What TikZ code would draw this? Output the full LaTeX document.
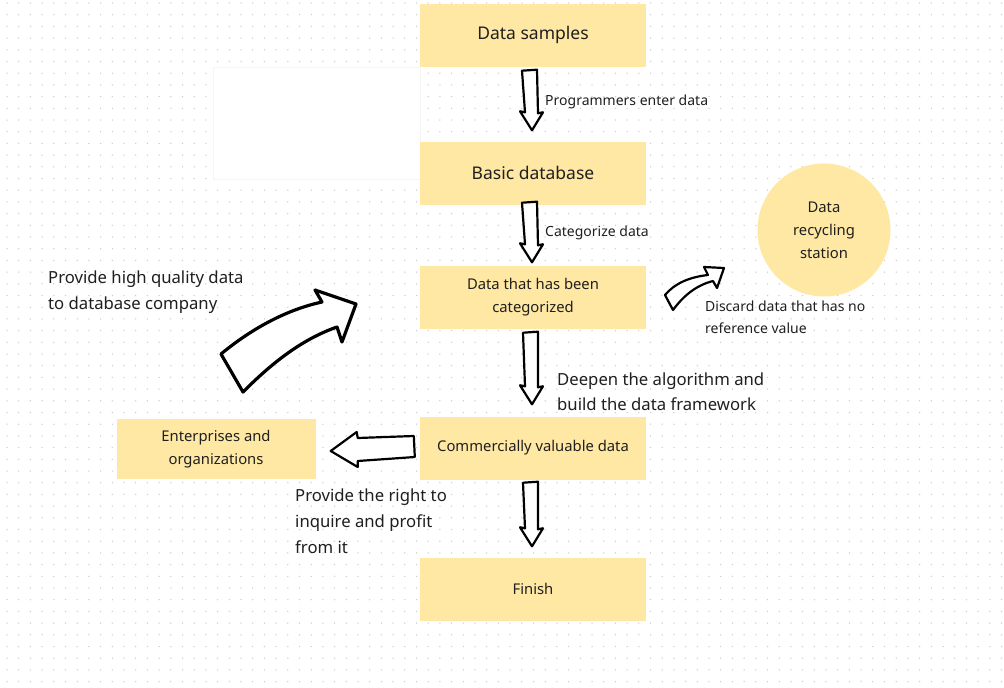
\documentclass[tikz,border=0pt]{standalone}
\usepackage{fontspec}
\setmainfont{Noto Sans}
\usepackage{tikz}
\usetikzlibrary{positioning}
\usetikzlibrary{calc}

% block arrows drawn between two named points
\newcommand{\downblock}[2]{%
	\draw[blockarrow] let \p1=(#1), \p2=(#2) in
		(\x1-8pt,\y1) -- (\x1+7pt,\y1+1pt) -- (\x2+6pt,\y2+17pt) -- (\x2+11pt,\y2+18pt) -- (\x2,\y2) -- (\x2-12pt,\y2+19pt) -- (\x2-7pt,\y2+18pt) -- cycle;}
\newcommand{\leftblock}[2]{%
	\draw[blockarrow] let \p1=(#1), \p2=(#2) in
		(\x1,\y1+11pt) -- (\x2+27pt,\y1+9pt) -- (\x2+26pt,\y1+15pt) -- (\x2,\y2) -- (\x2+27pt,\y2-16pt) -- (\x2+27pt,\y2-10pt) -- (\x1+1pt,\y1-10pt) -- cycle;}

\tikzset{
	box/.style={fill=ffe8a3, minimum width=226pt, minimum height=63pt, align=center, text=tt2b, inner sep=0pt},
	boxtext/.style={font=\fontsize{14.8}{23}\selectfont},
	bigtext/.style={font=\fontsize{17.5}{20}\selectfont},
	lbl/.style={anchor=west, inner sep=0pt, align=left, text=tt2b},
	blockarrow/.style={draw=black, fill=white, line width=2.2pt, line join=round}
}

\begin{document}
\begin{tikzpicture}[x=1pt,y=-1pt]
	\definecolor{ffe8a3}{rgb}{1,0.91,0.64}
	\definecolor{tt2b}{rgb}{0.12,0.12,0.12}
	\definecolor{dotgray}{rgb}{0.8,0.8,0.8}

	\useasboundingbox (0,0) rectangle (1004,688);
	\fill[white] (0,0) rectangle (1004,688);

	% dot grid
	\foreach \i in {0,...,85}
		\foreach \j in {0,...,58}
			\fill[dotgray] (7+\i*11.7, 3+\j*11.7) circle (0.75pt);

	\draw[fill=white, draw=gray!8] (213,67) rectangle (420,179);

	% boxes
	\node[box, bigtext] (samples) at (533,35) {Data samples};
	\node[box, bigtext] (basic) at (533,173) {Basic database};
	\node[box, boxtext] (sorted) at (533,297) {Data that has been\\categorized};
	\node[box, boxtext] (valuable) at (533,448) {Commercially valuable data};
	\node[box, boxtext] (finish) at (533,589) {Finish};
	\node[box, boxtext, minimum width=199pt, minimum height=60pt] (firms) at (216,449) {Enterprises and\\organizations};
	\node[circle, fill=ffe8a3, minimum size=133pt, inner sep=0pt, align=center, text=tt2b, boxtext] (station) at (824,230) {Data\\recycling\\station};

	% arrow ends
	\coordinate (a1) at ([xshift=-3pt,yshift=-4pt]samples.south);
	\coordinate (b1) at ([xshift=-1pt,yshift=11pt]basic.north);
	\coordinate (a2) at ([xshift=-3pt,yshift=2pt]basic.south);
	\coordinate (b2) at ([xshift=-1pt,yshift=3pt]sorted.north);
	\coordinate (a3) at ([xshift=-2pt,yshift=-4pt]sorted.south);
	\coordinate (b3) at ([xshift=-1pt,yshift=12pt]valuable.north);
	\coordinate (a4) at ([xshift=-2pt,yshift=-3pt]valuable.south);
	\coordinate (b4) at ([xshift=-1pt,yshift=11pt]finish.north);
	\coordinate (a5) at ([xshift=-6pt,yshift=1pt]valuable.west);
	\coordinate (b5) at ([xshift=15pt,yshift=-2pt]firms.east);

	\downblock{a1}{b1}
	\downblock{a2}{b2}
	\downblock{a3}{b3}
	\downblock{a4}{b4}
	\leftblock{a5}{b5}

	% curved arrows
	\draw[blockarrow, line width=3.2pt] (221,354) .. controls (250,330) and (285,310) .. (322,302) -- (315,290) -- (356,304) -- (342,342) -- (337,327) .. controls (300,340) and (270,365) .. (243,392) -- cycle;
	\draw[blockarrow, line width=2.2pt] (665,295) .. controls (675,283) and (690,277) .. (708,275) -- (704,267) -- (724,268) -- (717,288) -- (713,281) .. controls (697,285) and (684,295) .. (673,310) -- cycle;

	% labels
	\node[lbl, font=\fontsize{14}{22}\selectfont] (lblenter) at (545,101.5) {Programmers enter data};
	\node[lbl, font=\fontsize{14}{22}\selectfont] (lblsort) at (545,232.5) {Categorize data};
	\node[lbl, font=\fontsize{16.7}{26}\selectfont] (lblquality) at (48,292.5) {Provide high quality data\\to database company};
	\node[lbl, font=\fontsize{14}{22}\selectfont] (lbldiscard) at (705,317.5) {Discard data that has no\\reference value};
	\node[lbl, font=\fontsize{16.7}{25}\selectfont] (lbldeepen) at (557,392) {Deepen the algorithm and\\build the data framework};
	\node[lbl, font=\fontsize{16.7}{26}\selectfont] (lblright) at (295,521.5) {Provide the right to\\inquire and profit\\from it};
\end{tikzpicture}
\end{document}
